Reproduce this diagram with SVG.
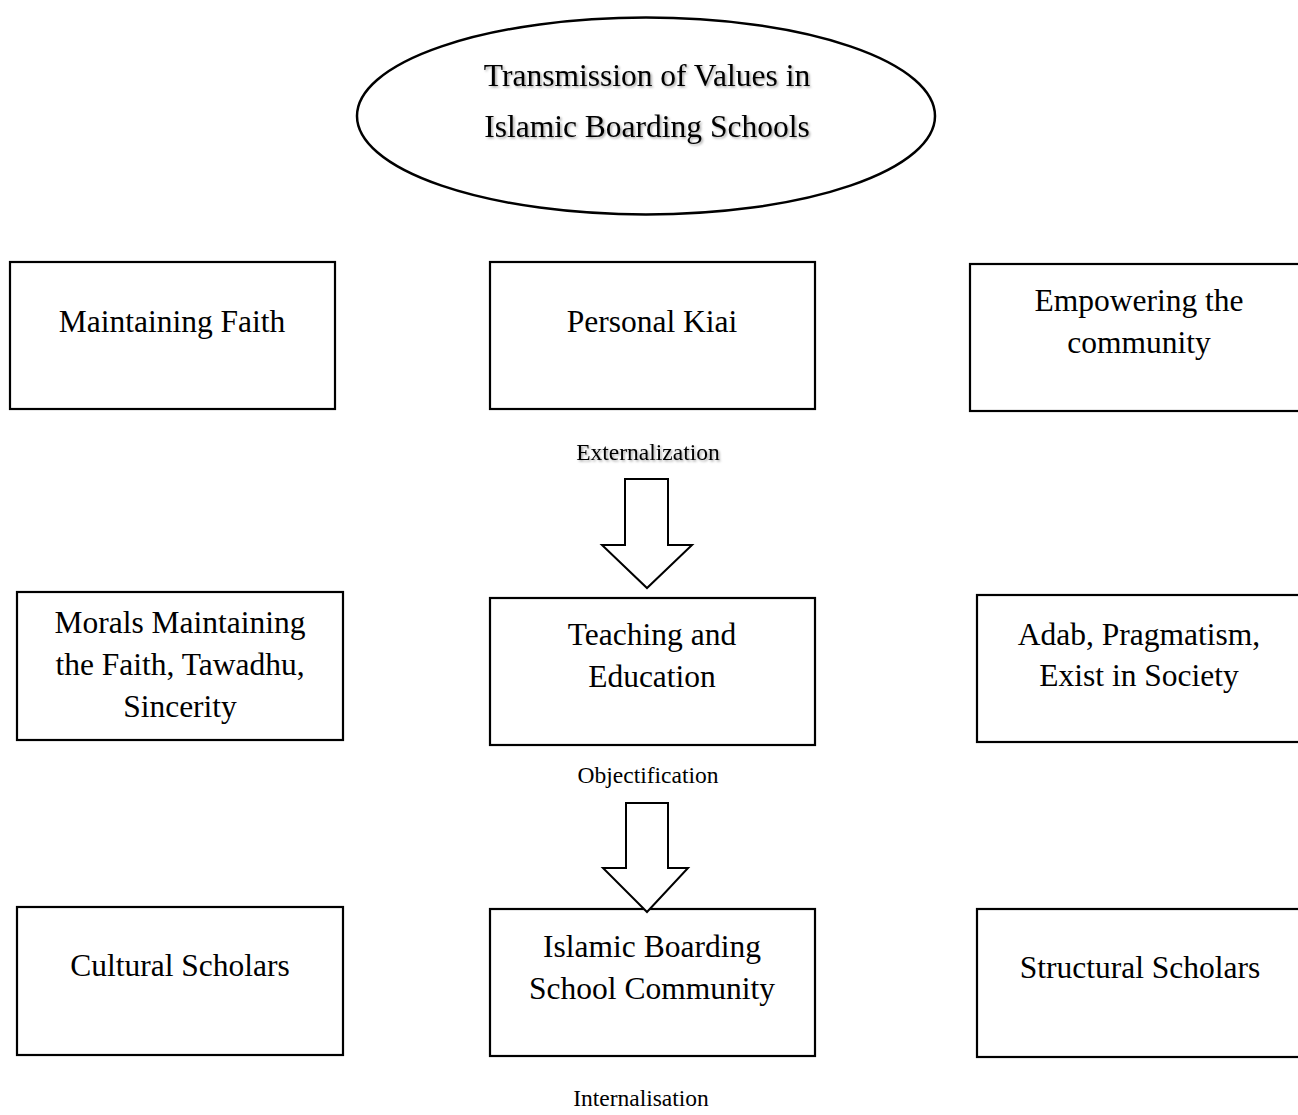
<svg xmlns="http://www.w3.org/2000/svg" width="1298" height="1115" viewBox="0 0 1298 1115">
<style>
.box{fill:#fff;stroke:#000;stroke-width:2.2}
.t{font-family:"Liberation Serif","Times New Roman",serif;font-size:31.5px;fill:#000;text-anchor:middle}
.lbl{font-family:"Liberation Serif","Times New Roman",serif;font-size:23.5px;fill:#000;text-anchor:middle}
.arr{fill:#fff;stroke:#000;stroke-width:2}
</style>
<defs>
<filter id="sh" x="-10%" y="-30%" width="120%" height="160%">
<feDropShadow dx="1.5" dy="1.5" stdDeviation="1" flood-color="#000" flood-opacity="0.35"/>
</filter>
</defs>
<rect width="1298" height="1115" fill="#fff"/>
<g id="title">
<ellipse cx="646" cy="116" rx="289" ry="98.5" fill="#fff" stroke="#000" stroke-width="2.5"/>
<text class="t" x="647" y="86" filter="url(#sh)">Transmission of Values in</text>
<text class="t" x="647" y="137" filter="url(#sh)">Islamic Boarding Schools</text>
</g>
<g id="maintaining-faith">
<rect class="box" x="10" y="262" width="325" height="147"/>
<text class="t" x="172" y="332">Maintaining Faith</text>
</g>
<g id="personal-kiai">
<rect class="box" x="490" y="262" width="325" height="147"/>
<text class="t" x="652" y="332">Personal Kiai</text>
</g>
<g id="empowering">
<rect class="box" x="970" y="264" width="340" height="147"/>
<text class="t" x="1139" y="311">Empowering the</text>
<text class="t" x="1139" y="353">community</text>
</g>
<g id="morals">
<rect class="box" x="17" y="592" width="326" height="148"/>
<text class="t" x="180" y="633">Morals Maintaining</text>
<text class="t" x="180" y="675">the Faith, Tawadhu,</text>
<text class="t" x="180" y="717">Sincerity</text>
</g>
<g id="teaching">
<rect class="box" x="490" y="598" width="325" height="147"/>
<text class="t" x="652" y="645">Teaching and</text>
<text class="t" x="652" y="687">Education</text>
</g>
<g id="adab">
<rect class="box" x="977" y="595" width="333" height="147"/>
<text class="t" x="1139" y="645">Adab, Pragmatism,</text>
<text class="t" x="1139" y="686">Exist in Society</text>
</g>
<g id="cultural">
<rect class="box" x="17" y="907" width="326" height="148"/>
<text class="t" x="180" y="976">Cultural Scholars</text>
</g>
<g id="community">
<rect class="box" x="490" y="909" width="325" height="147"/>
<text class="t" x="652" y="957">Islamic Boarding</text>
<text class="t" x="652" y="999">School Community</text>
</g>
<g id="structural">
<rect class="box" x="977" y="909" width="333" height="148"/>
<text class="t" x="1140" y="978">Structural Scholars</text>
</g>
<g id="connectors">
<polygon class="arr" points="625,479 668,479 668,545 692,545 647,588 602,545 625,545"/>
<polygon class="arr" points="626,803 668,803 668,868 688,868 647,912 603,868 626,868"/>
<text class="lbl" x="648" y="460" filter="url(#sh)">Externalization</text>
<text class="lbl" x="648" y="783">Objectification</text>
<text class="lbl" x="641" y="1106">Internalisation</text>
</g>
</svg>
